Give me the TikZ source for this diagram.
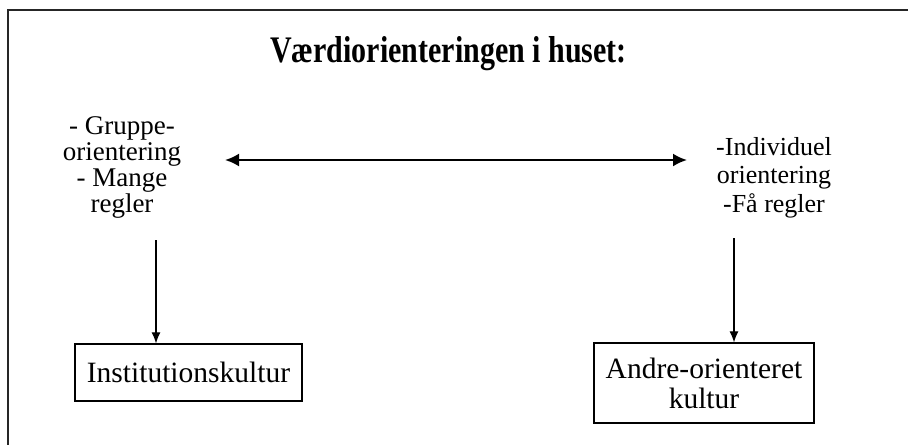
\documentclass[tikz,border=0pt]{standalone}
\usepackage{fontspec}
\setmainfont{Liberation Serif}
\usetikzlibrary{arrows.meta}
\begin{document}
\begin{tikzpicture}[x=1pt,y=-1pt,
  lbl/.style={align=center,inner sep=0pt,anchor=north},
  boxnode/.style={draw,line width=1.3pt,inner sep=0pt,align=center},
  biarrow/.style={line width=2.2pt,{Latex[length=14pt,width=13pt]}-{Latex[length=14pt,width=13pt]}},
  downarrow/.style={line width=1.1pt,-{Latex[length=11pt,width=9pt]}},
  frameline/.style={line width=1.8pt,color=black!85}]
\useasboundingbox (0,0) rectangle (908,445);
% frame (top and left sides only)
\draw[frameline] (908,10) -- (8,10) -- (8,445);
% title
\node[inner sep=0pt,anchor=base] (title) at (448.5,62) {\fontsize{30pt}{36pt}\selectfont\scalebox{1}[1.25]{\bfseries Værdiorienteringen i huset:}};
% labels
\node[lbl,font=\fontsize{27pt}{26pt}\selectfont] (left) at (122,116.5) {- Gruppe-\\orientering\\- Mange\\regler};
\node[lbl,font=\fontsize{26pt}{28.5pt}\selectfont] (right) at (774,137) {-Individuel\\orientering\\-Få regler};
% boxes
\node[boxnode,minimum width=227pt,minimum height=57pt,font=\fontsize{29.5pt}{30pt}\selectfont] (lbox) at (188.5,372.5) {Institutionskultur};
\node[boxnode,minimum width=220pt,minimum height=80pt,font=\fontsize{29.5pt}{30pt}\selectfont] (rbox) at (704,383) {Andre-orienteret\\kultur};
% connectors
\coordinate (hl) at (225,160);
\coordinate (hr) at (687,160);
\draw[biarrow] (hl) -- (hr);
\coordinate (la) at (156,240);
\coordinate (ra) at (734,238);
\draw[downarrow] (la) -- (la |- lbox.north);
\draw[downarrow] (ra) -- (ra |- rbox.north);
\end{tikzpicture}
\end{document}
